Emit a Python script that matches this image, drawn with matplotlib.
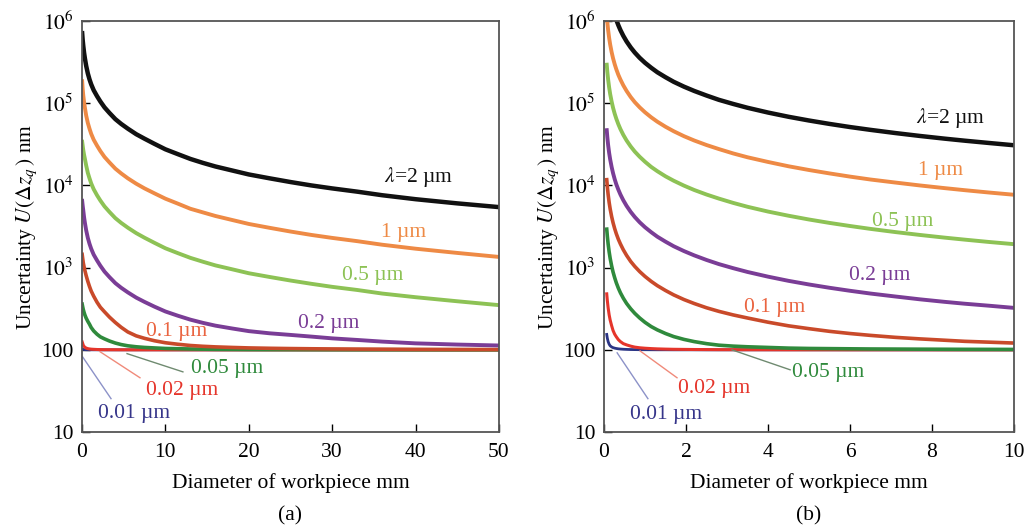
"""
Uncertainty U(dz_q) against workpiece diameter for several wavelengths.
Two panels: (a) 0-50 mm, (b) 0-10 mm, log y axis.
"""

import matplotlib
matplotlib.use("Agg")
import matplotlib.pyplot as plt

plt.rcParams['font.family'] = ['Liberation Serif', 'DejaVu Serif']
plt.rcParams['mathtext.fontset'] = 'stix'

# --- Data ---

# panel (a): diameter in mm, uncertainty in nm
diam_a = [0.02, 0.08, 0.15, 0.25, 0.35, 0.5, 0.7, 0.9, 1.1, 1.4, 1.8, 2.2, 2.7, 3.3, 4, 4.7, 5.5, 6.5,
          7.5, 8.7, 10, 11.5, 13, 14.5, 16, 18, 20, 22.5, 25, 27.5, 30, 33, 36, 40, 45, 50]
u_a_2000 = [7.1e5, 5.9e5, 5.0e5, 4.1e5, 3.5e5, 2.85e5, 2.3e5, 1.95e5, 1.7e5, 1.44e5, 1.22e5, 1.05e5,
            8.9e4, 7.6e4, 6.4e4, 5.6e4, 4.9e4, 4.2e4, 3.7e4, 3.2e4, 2.75e4, 2.4e4, 2.1e4, 1.88e4,
            1.7e4, 1.52e4, 1.36e4, 1.22e4, 1.1e4, 1.0e4, 9.2e3, 8.4e3, 7.6e3, 6.8e3, 6.05e3, 5.45e3]
u_a_1000 = [1.85e5, 1.5e5, 1.25e5, 1.03e5, 8.8e4, 7.1e4, 5.75e4, 4.9e4, 4.25e4, 3.6e4, 3.05e4, 2.62e4,
            2.22e4, 1.9e4, 1.6e4, 1.4e4, 1.22e4, 1.05e4, 9.2e3, 8.0e3, 6.9e3, 6.0e3, 5.2e3, 4.7e3,
            4.25e3, 3.8e3, 3.4e3, 3.05e3, 2.75e3, 2.5e3, 2.3e3, 2.1e3, 1.9e3, 1.7e3, 1.51e3, 1.35e3]
u_a_500 = [3.4e4, 3.05e4, 2.7e4, 2.35e4, 2.1e4, 1.75e4, 1.42e4, 1.22e4, 1.06e4, 9.0e3, 7.6e3, 6.55e3,
           5.56e3, 4.75e3, 4.0e3, 3.5e3, 3.06e3, 2.63e3, 2.31e3, 2.0e3, 1720, 1500, 1315, 1180,
           1065, 955, 855, 770, 697, 636, 584, 535, 484, 437, 390, 350]
u_a_200 = [6500, 5700, 5000, 4100, 3500, 2850, 2300, 1950, 1700, 1440, 1225, 1055,
           895, 766, 648, 569, 500, 432, 383, 335, 293, 260, 233, 213,
           197, 182, 169, 159, 152, 145, 138, 132, 126, 120, 116, 113]
u_a_100 = [1450, 1300, 1150, 1020, 920, 800, 680, 590, 520, 450, 380, 330,
           290, 250, 215, 188, 165, 148, 138, 129, 122, 117, 113, 110.5,
           108.7, 107, 105.6, 104.5, 103.7, 103.1, 102.6, 102.2, 101.9, 101.4, 101.1, 100.9]
u_a_50 = [360, 335, 310, 285, 265, 243, 222, 205, 187, 170, 155, 144,
          136, 128, 121, 116, 112, 109, 107, 105.5, 104, 103.2, 102.5, 102,
          101.5, 101.3, 101, 100.8, 100.7, 100.6, 100.5, 100.4, 100.4, 100.3, 100.2, 100.2]
u_a_20 = [125, 120, 114, 110, 107.5, 105, 103.5, 102.6, 102, 101.5, 101, 100.7,
          100.5, 100.4, 100.3, 100.2, 100.2, 100.1, 100.1, 100.1, 100, 100, 100, 100,
          100, 100, 100, 100, 100, 100, 100, 100, 100, 100, 100, 100]
u_a_10 = [102, 101.6, 101.2, 100.9, 100.6, 100.4, 100.3, 100.2, 100.15, 100.1, 100.1, 100,
          100, 100, 100, 100, 100, 100, 100, 100, 100, 100, 100, 100,
          100, 100, 100, 100, 100, 100, 100, 100, 100, 100, 100, 100]

# panel (b): diameter in mm, uncertainty in nm
diam_b = [0.066, 0.08, 0.1, 0.125, 0.15, 0.185, 0.22, 0.26, 0.3, 0.35, 0.4, 0.47, 0.55, 0.65, 0.75,
          0.87, 1.0, 1.15, 1.3, 1.5, 1.7, 1.95, 2.2, 2.5, 2.8, 3.15, 3.5, 4, 4.5, 5, 5.5, 6, 6.5,
          7.1, 7.7, 8.3, 8.8, 9.4, 10]
u_b_2000 = [4.7e6, 3.88e6, 3.1e6, 2.48e6, 2.07e6, 1.68e6, 1.41e6, 1.19e6, 1.03e6, 8.86e5, 7.75e5,
            6.6e5, 5.64e5, 4.77e5, 4.13e5, 3.56e5, 3.1e5, 2.7e5, 2.38e5, 2.07e5, 1.82e5, 1.59e5,
            1.41e5, 1.24e5, 1.1e5, 9.8e4, 8.8e4, 7.7e4, 6.84e4, 6.16e4, 5.6e4, 5.13e4, 4.74e4,
            4.34e4, 4.0e4, 3.71e4, 3.5e4, 3.28e4, 3.08e4]
u_b_1000 = [1.175e6, 9.7e5, 7.75e5, 6.2e5, 5.17e5, 4.19e5, 3.52e5, 2.98e5, 2.58e5, 2.21e5, 1.94e5,
            1.65e5, 1.41e5, 1.19e5, 1.03e5, 8.9e4, 7.75e4, 6.74e4, 5.96e4, 5.17e4, 4.56e4, 3.97e4,
            3.52e4, 3.1e4, 2.77e4, 2.45e4, 2.2e4, 1.93e4, 1.71e4, 1.54e4, 1.4e4, 1.28e4, 1.18e4,
            1.085e4, 1.0e4, 9.28e3, 8.75e3, 8.19e3, 7.7e3]
u_b_500 = [2.94e5, 2.42e5, 1.94e5, 1.55e5, 1.29e5, 1.05e5, 8.8e4, 7.45e4, 6.46e4, 5.54e4, 4.84e4,
           4.12e4, 3.52e4, 2.98e4, 2.58e4, 2.23e4, 1.94e4, 1.68e4, 1.49e4, 1.29e4, 1.14e4, 9.94e3,
           8.8e3, 7.75e3, 6.92e3, 6.13e3, 5.5e3, 4.81e3, 4.28e3, 3.85e3, 3.5e3, 3.21e3, 2.96e3,
           2.71e3, 2.5e3, 2.32e3, 2.19e3, 2.05e3, 1.93e3]
u_b_200 = [4.7e4, 3.88e4, 3.1e4, 2.48e4, 2.07e4, 1.68e4, 1.41e4, 1.19e4, 1.03e4, 8860, 7750,
           6600, 5640, 4770, 4130, 3560, 3100, 2700, 2380, 2070, 1820, 1590,
           1410, 1240, 1105, 985, 886, 777, 691, 624, 569, 523, 484,
           446, 412, 384, 364, 344, 324]
u_b_100 = [11750, 9700, 7750, 6200, 5170, 4190, 3520, 2980, 2580, 2210, 1940,
           1650, 1410, 1190, 1035, 895, 781, 681, 604, 527, 466, 409,
           366, 325, 294, 266, 244, 217, 196, 181, 168, 158, 150,
           142, 136, 131, 127, 124, 121]
u_b_50 = [2940, 2425, 1940, 1553, 1295, 1052, 885, 753, 653, 562, 494,
          425, 367, 316, 278, 244, 216, 192, 175, 158, 145, 134,
          126, 119, 114, 111, 109, 107, 105, 104, 103.5, 103, 102.5,
          102.2, 101.9, 101.7, 101.5, 101.4, 101.2]
u_b_20 = [480, 400, 325, 266, 230, 197, 172, 155, 144, 133, 126,
          119, 115, 111, 108, 106, 104.7, 103.6, 102.8, 102.1, 101.6, 101.3,
          101, 100.8, 100.6, 100.5, 100.4, 100.3, 100.2, 100.2, 100.2, 100.1, 100.1,
          100.1, 100.1, 100, 100, 100, 100]
u_b_10 = [154, 139, 126, 117, 112, 108.5, 106.4, 104.9, 103.9, 102.9, 102.3,
          101.7, 101.3, 100.9, 100.7, 100.5, 100.4, 100.3, 100.2, 100.2, 100.1, 100.1,
          100.1, 100, 100, 100, 100, 100, 100, 100, 100, 100, 100,
          100, 100, 100, 100, 100, 100]

y_ticks = [10, 100, 1e3, 1e4, 1e5, 1e6]
y_tick_labels = ['10', '100', r'$10^3$', r'$10^4$', r'$10^5$', r'$10^6$']
x_ticks_a = [0, 10, 20, 30, 40, 50]
x_ticks_b = [0, 2, 4, 6, 8, 10]

# curve styles, drawn from bottom to top
STYLES = [
    ('#2b3585', 2.0),   # 0.01 um
    ('#e5352b', 2.2),   # 0.02 um
    ('#2f8a3c', 2.6),   # 0.05 um
    ('#c94a2a', 2.6),   # 0.1 um
    ('#7a3d96', 2.8),   # 0.2 um
    ('#8dc255', 2.8),   # 0.5 um
    ('#ee8a45', 2.8),   # 1 um
    ('#111111', 3.2),   # 2 um
]

LABEL_COLORS = {
    '2': '#111111', '1': '#ee8a45', '0.5': '#8dc255', '0.2': '#7a3d96',
    '0.1': '#ea6440', '0.05': '#2f8a3c', '0.02': '#e5352b', '0.01': '#36358a',
}

FS = 15.5


def draw_panel(ax, diam, curves, xticks, labels, leaders, letter):
    for (color, lw), values in zip(STYLES, curves):
        ax.plot(diam, values, color=color, linewidth=lw, solid_joinstyle='round')

    for key, (x, y, txt) in labels.items():
        ax.text(x, y, txt, color=LABEL_COLORS[key], fontsize=FS, ha='center', va='center')

    for (x0, y0, x1, y1, color) in leaders:
        ax.plot([x0, x1], [y0, y1], color=color, linewidth=1.0)

    ax.set_yscale('log')
    ax.set_ylim(10, 1e6)
    ax.set_xlim(xticks[0], xticks[-1])
    ax.set_yticks(y_ticks)
    ax.set_yticklabels(y_tick_labels)
    ax.minorticks_off()
    ax.set_xticks(xticks)
    ax.tick_params(axis='both', direction='in', length=6, width=1.0, labelsize=FS,
                   top=False, right=False)
    ax.tick_params(axis='x', pad=8)
    ax.tick_params(axis='y', pad=6)
    for sp in ax.spines.values():
        sp.set_color('#555555')
        sp.set_linewidth(1.3)
    ax.set_xlabel('Diameter of workpiece mm', fontsize=FS, labelpad=8)
    ax.set_ylabel(r'Uncertainty $U(\Delta z_q\,)$ nm', fontsize=FS, labelpad=2)
    ax.text(0.5, -0.205, letter, transform=ax.transAxes, fontsize=FS, ha='center', va='center')


fig = plt.figure(figsize=(10.25, 5.25), dpi=100)
ax_a = fig.add_axes([0.080, 0.177, 0.4068, 0.783])
ax_b = fig.add_axes([0.5893, 0.177, 0.400, 0.783])

labels_a = {
    '2': (40.4, 1.25e4, r'$\lambda$=2 µm'),
    '1': (38.6, 2.7e3, '1 µm'),
    '0.5': (34.9, 810, '0.5 µm'),
    '0.2': (29.6, 212, '0.2 µm'),
    '0.1': (11.4, 165, '0.1 µm'),
    '0.05': (17.4, 59, '0.05 µm'),
    '0.02': (12.0, 31.8, '0.02 µm'),
    '0.01': (6.2, 16.7, '0.01 µm'),
}
leaders_a = [
    (0.08, 82, 3.48, 25.5, '#8c92c8'),
    (2.16, 95, 6.95, 45.8, '#f08a7a'),
    (5.4, 90, 12.1, 54, '#6f8a70'),
]

labels_b = {
    '2': (8.44, 6.67e4, r'$\lambda$=2 µm'),
    '1': (8.2, 1.52e4, '1 µm'),
    '0.5': (7.29, 3660, '0.5 µm'),
    '0.2': (6.73, 810, '0.2 µm'),
    '0.1': (4.17, 323, '0.1 µm'),
    '0.05': (5.46, 52.6, '0.05 µm'),
    '0.02': (2.68, 33.7, '0.02 µm'),
    '0.01': (1.51, 16.3, '0.01 µm'),
}
leaders_b = [
    (0.32, 92, 1.07, 25.5, '#8c92c8'),
    (0.88, 97, 1.78, 45.8, '#f08a7a'),
    (3.12, 100, 4.54, 57.2, '#6f8a70'),
]

curves_a = [u_a_10, u_a_20, u_a_50, u_a_100, u_a_200, u_a_500, u_a_1000, u_a_2000]
curves_b = [u_b_10, u_b_20, u_b_50, u_b_100, u_b_200, u_b_500, u_b_1000, u_b_2000]

draw_panel(ax_a, diam_a, curves_a, x_ticks_a, labels_a, leaders_a, '(a)')
draw_panel(ax_b, diam_b, curves_b, x_ticks_b, labels_b, leaders_b, '(b)')

fig.savefig('out.png', dpi=100)
